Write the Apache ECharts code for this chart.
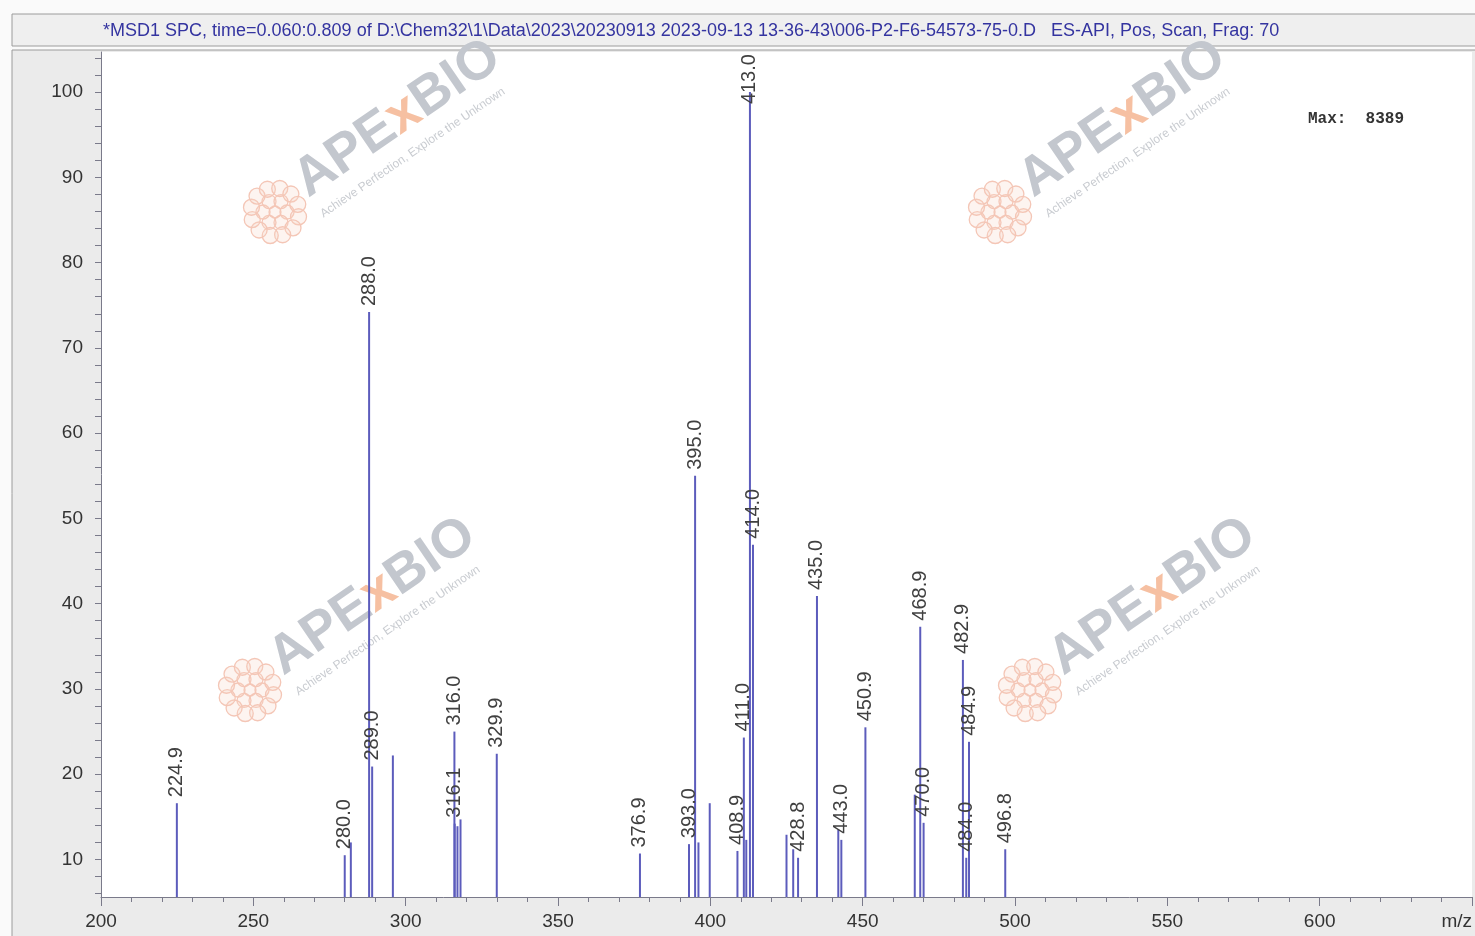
<!DOCTYPE html>
<html><head><meta charset="utf-8">
<script src="https://cdn.jsdelivr.net/npm/echarts@6/dist/echarts.min.js"></script>
<style>html,body{margin:0;padding:0;background:#fafafa}#c{width:1475px;height:936px}</style>
</head><body><div id="c"></div>
<script>
const titleText = '*MSD1 SPC, time=0.060:0.809 of D:\\Chem32\\1\\Data\\2023\\20230913 2023-09-13 13-36-43\\006-P2-F6-54573-75-0.D   ES-API, Pos, Scan, Frag: 70';
const maxText = 'Max:  8389';
// peaks: m/z, relative abundance (%), label shown above the stick
const peakMz    = [224.9, 280.0, 282.0, 288.0, 289.0, 295.8, 316.0, 316.1, 317.0, 318.0, 329.9, 376.9, 393.0, 395.0, 396.1, 399.8, 408.9, 411.0, 411.8, 413.0, 414.0, 425.0, 427.2, 428.8, 435.0, 442.0, 443.0, 450.9, 467.1, 468.9, 470.0, 482.9, 484.0, 484.9, 496.8];
const peakAbund = [16.6, 10.5, 12.0, 74.2, 20.9, 22.2, 25.0, 14.2, 13.9, 14.7, 22.4, 10.7, 11.8, 55.0, 12.0, 16.6, 11.0, 24.3, 12.3, 100.0, 46.9, 12.9, 11.2, 10.2, 40.9, 13.5, 12.3, 25.5, 17.6, 37.3, 14.3, 33.4, 10.2, 23.8, 11.2];
const peakLabel = ['224.9', '280.0', '', '288.0', '289.0', '', '316.0', '316.1', '', '', '329.9', '376.9', '393.0', '395.0', '', '', '408.9', '411.0', '', '413.0', '414.0', '', '', '428.8', '435.0', '', '443.0', '450.9', '', '468.9', '470.0', '482.9', '484.0', '484.9', '496.8'];
const yTickValues  = [6,8,10,12,14,16,18,20,22,24,26,28,30,32,34,36,38,40,42,44,46,48,50,52,54,56,58,60,62,64,66,68,70,72,74,76,78,80,82,84,86,88,90,92,94,96,98,100,102,104];
const yLabelValues = [10,20,30,40,50,60,70,80,90,100];
const xMin = 200, xMax = 650, xMajor = 50;
const yMin = 5.6, yMax = 104.7;
const watermarkSpots = [[275,212],[1000,212],[250,690],[1030,690]];

const chart = echarts.init(document.getElementById('c'), null, {renderer:'canvas'});
const FONT = 'Liberation Sans, Arial, sans-serif';
const BAR = '#5c5cbc';

const data = peakMz.map((m,i)=>{
  const item = {value:[m, peakAbund[i]], label:{show: peakLabel[i] !== ''}};
  if (peakAbund[i] >= 99) {
    item.label.position = [1, -38];
    item.label.align = 'right';
  }
  return item;
});

function flower(cx, cy){
  const kids = [];
  const st = {fill:'rgba(248,210,196,0.25)', stroke:'#f4c6b6', lineWidth:1.3};
  kids.push({type:'circle', shape:{cx:cx, cy:cy, r:6}, style:st});
  for (let k=0;k<6;k++){const a=k*Math.PI/3; kids.push({type:'circle', shape:{cx:cx+12*Math.cos(a), cy:cy+12*Math.sin(a), r:7}, style:st});}
  for (let k=0;k<12;k++){const a=k*Math.PI/6+0.2; kids.push({type:'circle', shape:{cx:cx+24*Math.cos(a), cy:cy+24*Math.sin(a), r:8}, style:st});}
  return kids;
}
const wm = [];
watermarkSpots.forEach(([fx,fy])=>{
  flower(fx,fy).forEach(k=>{k.z=1; k.silent=true; wm.push(k);});
  wm.push({type:'text', x:fx+40, y:fy-4, rotation:0.6, z:1, silent:true,
    style:{text:'{g|APE}{o|x}{g|BIO}', align:'left', verticalAlign:'bottom',
      rich:{g:{fill:'#c3c7ce', fontSize:54, fontWeight:'bold', fontFamily:FONT},
            o:{fill:'#f6c0a2', fontSize:54, fontWeight:'bold', fontFamily:FONT}}}});
  wm.push({type:'text', x:fx+50, y:fy+8, rotation:0.6, z:1, silent:true,
    style:{text:'Achieve Perfection, Explore the Unknown', fill:'#c9ccd1', fontSize:12, fontFamily:FONT, align:'left', verticalAlign:'bottom'}});
});

const option = {
  animation:false,
  backgroundColor:'#fafafa',
  graphic:[
    {type:'rect', shape:{x:12, y:14, width:1470, height:32}, style:{fill:'#efefef', stroke:'#9c9c9c', lineWidth:1}, z:-10},
    {type:'text', x:103, y:31, style:{text:titleText, fill:'#3434a0', fontSize:18, fontFamily:FONT, verticalAlign:'middle'}, z:5},
    {type:'rect', shape:{x:12, y:50, width:1470, height:890}, style:{fill:'#ebebeb', stroke:'#9c9c9c', lineWidth:1}, z:-10},
    {type:'text', x:1308, y:119, style:{text:maxText, fill:'#333', fontSize:16, fontWeight:'bold', fontFamily:'Liberation Mono, Courier New, monospace', verticalAlign:'middle'}, z:5},
    ...wm
  ],
  grid:{left:101, right:3, top:52, bottom:39, show:true, backgroundColor:'#ffffff', borderWidth:0},
  xAxis:{type:'value', min:xMin, max:xMax, interval:xMajor,
    axisLine:{show:true, onZero:false, lineStyle:{color:'#7a7a8a', width:1}},
    axisTick:{show:true, length:9, lineStyle:{color:'#7a7a8a'}},
    minorTick:{show:true, splitNumber:5, length:5, lineStyle:{color:'#7a7a8a'}},
    splitLine:{show:false},
    axisLabel:{margin:15, color:'#333', fontSize:19, fontFamily:FONT, alignMaxLabel:'right',
      formatter:v=> v===xMax ? 'm/z' : String(v)}
  },
  yAxis:{type:'value', min:yMin, max:yMax,
    axisLine:{show:true, lineStyle:{color:'#7a7a8a', width:1}},
    axisTick:{show:true, length:6, customValues:yTickValues, lineStyle:{color:'#7a7a8a'}},
    splitLine:{show:false},
    axisLabel:{margin:18, color:'#333', fontSize:19, fontFamily:FONT, customValues:yLabelValues}
  },
  series:[{
    type:'bar', data:data, barWidth:2, clip:true, z:3,
    itemStyle:{color:BAR},
    label:{show:true, position:'top', distance:6, rotate:90, align:'left', verticalAlign:'middle',
      color:'#404040', fontSize:20, fontFamily:FONT,
      formatter:p=>peakLabel[p.dataIndex]},
    labelLayout:{hideOverlap:false}
  }]
};
chart.setOption(option);
</script></body></html>
